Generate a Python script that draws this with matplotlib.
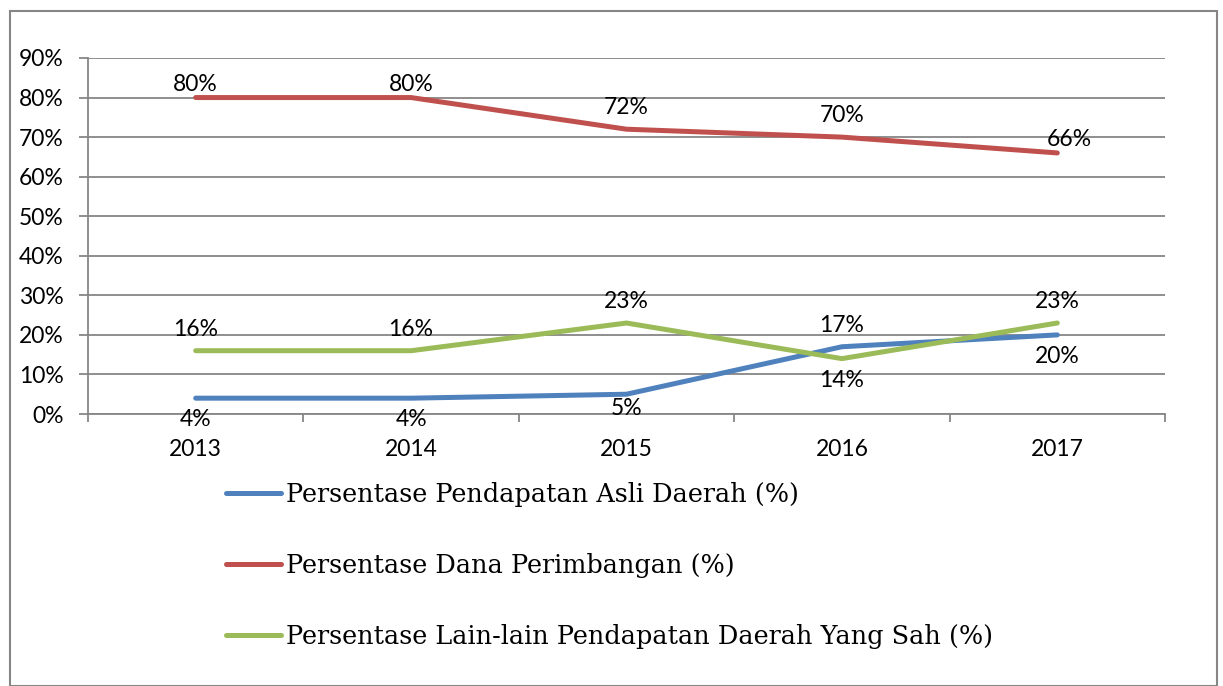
import matplotlib
matplotlib.use("Agg")

import matplotlib.pyplot as plt
from matplotlib.patches import Rectangle


YEARS = ["2013", "2014", "2015", "2016", "2017"]

PAD_VALUES = [4, 4, 5, 17, 20]
DANA_VALUES = [80, 80, 72, 70, 66]
LAIN_VALUES = [16, 16, 23, 14, 23]

SERIES_NAMES = [
    "Persentase Pendapatan Asli Daerah (%)",
    "Persentase Dana Perimbangan (%)",
    "Persentase Lain-lain Pendapatan Daerah Yang Sah (%)",
]

Y_TICKS = [0, 10, 20, 30, 40, 50, 60, 70, 80, 90]

# label placement per point: "above", "near", "below", "right"
PAD_LABEL_POS = ["below", "below", "near_below", "above", "below"]
DANA_LABEL_POS = ["near", "near", "above", "above", "right"]
LAIN_LABEL_POS = ["above", "above", "above", "below", "above"]

BLUE = "#4F81BD"
RED = "#C0504D"
GREEN = "#9BBB59"
GRID = "#868686"

LABEL_FONT = "Lato"
LEGEND_FONT = "DejaVu Serif"


def add_point_labels(ax, xs, values, positions) -> None:
    for x, value, pos in zip(xs, values, positions):
        if pos == "above":
            offset, ha, va = (0, 8), "center", "bottom"
        elif pos == "near":
            offset, ha, va = (0, 2), "center", "bottom"
        elif pos == "below":
            offset, ha, va = (0, -8), "center", "top"
        elif pos == "near_below":
            offset, ha, va = (0, -3), "center", "top"
        else:
            offset, ha, va = (0, 2), "left", "bottom"
            x = x - 0.05
        ax.annotate(
            f"{value}%",
            xy=(x, value),
            xytext=offset,
            textcoords="offset points",
            ha=ha,
            va=va,
            fontsize=16.5,
            family=LABEL_FONT,
            color="black",
        )


def main() -> None:
    fig = plt.figure(figsize=(12.23, 6.86), dpi=100)

    # outer chart border
    fig.patches.append(
        Rectangle(
            (10 / 1223, 0.0),
            1207 / 1223,
            1 - 11 / 686,
            transform=fig.transFigure,
            fill=False,
            edgecolor=GRID,
            linewidth=1.5,
        )
    )

    ax = fig.add_axes([88 / 1223, 1 - 414 / 686, 1077 / 1223, 356 / 686])

    xs = list(range(len(YEARS)))

    lines = []
    for values, color in [
        (PAD_VALUES, BLUE),
        (DANA_VALUES, RED),
        (LAIN_VALUES, GREEN),
    ]:
        (line,) = ax.plot(
            xs,
            values,
            color=color,
            linewidth=3.6,
            solid_capstyle="round",
            zorder=3,
        )
        lines.append(line)

    add_point_labels(ax, xs, PAD_VALUES, PAD_LABEL_POS)
    add_point_labels(ax, xs, DANA_VALUES, DANA_LABEL_POS)
    add_point_labels(ax, xs, LAIN_VALUES, LAIN_LABEL_POS)

    ax.set_xlim(-0.5, len(YEARS) - 0.5)
    ax.set_ylim(0, 90)

    ax.set_yticks(Y_TICKS)
    ax.set_yticklabels([f"{t}%" for t in Y_TICKS])
    ax.set_xticks(xs)
    ax.set_xticklabels(YEARS)
    ax.set_xticks([x - 0.5 for x in range(len(YEARS) + 1)], minor=True)

    ax.grid(True, axis="y", color=GRID, linewidth=1.3)
    ax.set_axisbelow(True)

    for side in ["top", "right"]:
        ax.spines[side].set_visible(False)
    for side in ["left", "bottom"]:
        ax.spines[side].set_color(GRID)
        ax.spines[side].set_linewidth(1.3)

    ax.tick_params(axis="y", length=6.5, width=1.3, color=GRID, pad=11)
    ax.tick_params(axis="x", which="major", length=0, pad=18)
    ax.tick_params(axis="x", which="minor", length=6, width=1.3, color=GRID)

    for label in ax.get_xticklabels() + ax.get_yticklabels():
        label.set_fontfamily(LABEL_FONT)
        label.set_fontsize(16.5)

    fig.legend(
        lines,
        SERIES_NAMES,
        loc="upper left",
        bbox_to_anchor=(226 / 1223, 1 - 482 / 686),
        frameon=False,
        prop={"family": LEGEND_FONT, "size": 18.4},
        handlelength=2.15,
        handletextpad=0.2,
        labelspacing=1.8,
        borderaxespad=0,
        borderpad=0,
    )

    fig.savefig("out.png", dpi=100)
    plt.close(fig)


if __name__ == "__main__":
    main()
